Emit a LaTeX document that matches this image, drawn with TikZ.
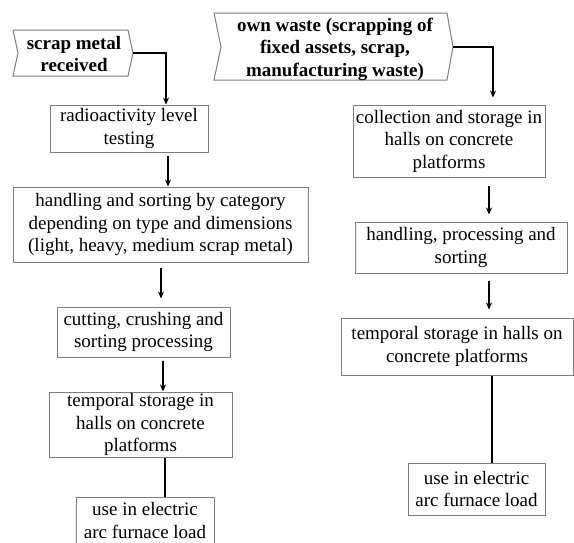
\documentclass[tikz,border=0pt]{standalone}
\usepackage{fontspec}
\setmainfont{Liberation Serif}
\usetikzlibrary{arrows.meta}
\definecolor{boxgray}{RGB}{125,125,125}
\begin{document}
\begin{tikzpicture}[x=1pt,y=-1pt,
  box/.style={draw=boxgray, line width=1pt, inner sep=0pt, align=center,
              font=\fontsize{19}{22.5}\selectfont},
  banner/.style={draw=boxgray, line width=1pt},
  btext/.style={inner sep=0pt, align=center, font=\fontsize{19}{22.5}\selectfont\bfseries},
  arr/.style={line width=1.3pt, -{Stealth[length=7pt,width=6pt]}},
  link/.style={line width=1.3pt}]
\clip (0,0) rectangle (574,542);

% banners
\draw[banner] (13,30) -- (128,30) -- (133,53) -- (128,76) -- (13,76) -- (18,53) -- cycle;
\coordinate (b1tip) at (133,53);
\node[btext] (b1) at (74,54) {scrap metal\\received};

\draw[banner] (214,13) -- (447,13) -- (453,47) -- (447,80) -- (214,80) -- (221,47) -- cycle;
\coordinate (b2tip) at (453,47);
\node[btext] (b2) at (335,49) {own waste (scrapping of\\fixed assets, scrap,\\manufacturing waste)};

% left column
\node[box, minimum width=158pt, minimum height=47pt] (radio) at (129,128.5) {radioactivity level\\testing};
\node[box, minimum width=295pt, minimum height=75pt] (handL) at (160.5,224.5) {handling and sorting by category\\depending on type and dimensions\\(light, heavy, medium scrap metal)};
\node[box, minimum width=173pt, minimum height=50pt] (cut) at (143.5,332) {cutting, crushing and\\sorting processing};
\node[box, minimum width=183pt, minimum height=65pt] (tempL) at (140.5,424.5) {temporal storage in\\halls on concrete\\platforms};
\node[box, minimum width=138pt, minimum height=47pt] (useL) at (145,520.5) {use in electric\\arc furnace load};

% right column
\node[box, minimum width=192pt, minimum height=72pt] (coll) at (449,141) {collection and storage in\\halls on concrete\\platforms};
\node[box, minimum width=212pt, minimum height=51pt] (handR) at (461,247.5) {handling, processing and\\sorting};
\node[box, minimum width=232pt, minimum height=57pt] (tempR) at (457,346.5) {temporal storage in halls on\\concrete platforms};
\node[box, minimum width=137pt, minimum height=52pt] (useR) at (476.5,489) {use in electric\\arc furnace load};

% connectors left
\draw[arr] (b1tip) -| (radio.north -| 166,0);
\draw[arr, shorten <=3pt] (radio.south -| 168,0) -- (handL.north -| 168,0);
\draw[arr, shorten <=5pt, shorten >=8pt] (handL.south -| 161,0) -- (cut.north -| 161,0);
\draw[arr, shorten <=3pt] (cut.south -| 163,0) -- (tempL.north -| 163,0);
\draw[link] (tempL.south -| 165,0) -- (useL.north -| 165,0);

% connectors right
\draw[arr, shorten >=7pt] (b2tip) -| (coll.north -| 493,0);
\draw[arr, shorten <=8pt, shorten >=7pt] (coll.south -| 489,0) -- (handR.north -| 489,0);
\draw[arr, shorten <=7pt, shorten >=8pt] (handR.south -| 489,0) -- (tempR.north -| 489,0);
\draw[link] (tempR.south -| 492,0) -- (useR.north -| 492,0);
\end{tikzpicture}
\end{document}
